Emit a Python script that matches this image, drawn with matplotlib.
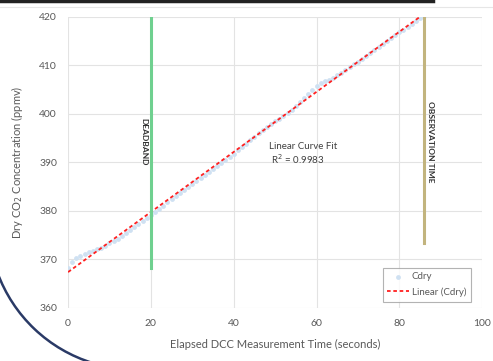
import numpy as np
import matplotlib.pyplot as plt
from matplotlib.patches import Arc
from matplotlib.lines import Line2D

# data (one reading per second)
elapsed = list(range(0, 87))
cdry = [368.2, 369.4, 370.2, 370.8, 371.2, 371.5, 371.8, 372.1, 372.4, 372.8,
        373.3, 373.8, 374.3, 374.9, 375.5, 376.1, 376.7, 377.3, 377.9, 378.5,
        379.1, 379.8, 380.5, 381.1, 381.8, 382.4, 383.0, 383.7, 384.3, 384.9,
        385.6, 386.2, 386.8, 387.4, 388.0, 388.6, 389.2, 389.9, 390.5, 391.1,
        391.8, 392.5, 393.2, 393.9, 394.6, 395.3, 396.0, 396.7, 397.4, 398.0,
        398.5, 399.0, 399.6, 400.2, 400.9, 401.6, 402.4, 403.2, 404.1, 405.0,
        405.8, 406.3, 406.7, 407.1, 407.5, 408.0, 408.5, 409.0, 409.6, 410.2,
        410.8, 411.4, 412.0, 412.6, 413.2, 413.8, 414.4, 415.0, 415.6, 416.2,
        416.8, 417.4, 418.0, 418.6, 419.2, 419.7, 420.2]

deadband_t = 20
deadband_y = [368.2, 420]
obs_t = 86
obs_y = [373.4, 420]

xticks = [0, 20, 40, 60, 80, 100]
yticks = [360, 370, 380, 390, 400, 410, 420]

plt.rcParams['font.family'] = ['Lato', 'DejaVu Sans']
grey = '#595959'

fig = plt.figure(figsize=(4.93, 3.61), dpi=100)
ax = fig.add_axes([0.138, 0.147, 0.840, 0.806])

ax.scatter(elapsed, cdry, marker='o', s=12, color='#cfe1f2', lw=0, zorder=2, label='Cdry')

# linear trendline
coef = np.polyfit(elapsed, cdry, 1)
tfit = np.array([0, obs_t])
ax.plot(tfit, np.polyval(coef, tfit), color='#ff2020', ls=(0, (2, 1.5)), lw=1.3,
        zorder=3, label='Linear (Cdry)')

ax.plot([deadband_t, deadband_t], deadband_y, color='#6fd08f', lw=2.2, zorder=4)
ax.plot([obs_t, obs_t], obs_y, color='#c2b47e', lw=2.2, zorder=4)

ax.text(deadband_t - 1.8, 394.3, 'DEADBAND', rotation=270, fontsize=6, color='#303030',
        ha='center', va='center', fontweight='bold')
ax.text(obs_t + 1.6, 394.3, 'OBSERVATION TIME', rotation=270, fontsize=6, color='#303030',
        ha='center', va='center', fontweight='bold')
ax.text(48.5, 393.2, 'Linear Curve Fit', fontsize=7, color='#404040', ha='left', va='center')
ax.text(49, 390.6, 'R$^2$ = 0.9983', fontsize=7, color='#404040', ha='left', va='center')

ax.set_xlim(0, 100)
ax.set_ylim(360, 420)
ax.set_xticks(xticks)
ax.set_yticks(yticks)
ax.tick_params(length=0, colors=grey, labelsize=7.5, pad=8)
ax.grid(True, color='#e3e3e3', lw=0.8)
ax.set_axisbelow(True)
for s in ax.spines.values():
    s.set_visible(False)

ax.set_xlabel('Elapsed DCC Measurement Time (seconds)', fontsize=8, color=grey, labelpad=8)
ax.set_ylabel('Dry CO$_2$ Concentration (ppmv)', fontsize=8, color=grey, labelpad=10)

leg = ax.legend(loc='lower right', bbox_to_anchor=(0.985, 0.005), fontsize=7,
                frameon=True, fancybox=False, handlelength=2.2, borderpad=0.5,
                labelspacing=0.6, handletextpad=0.3)
leg.get_frame().set_edgecolor('#a0a0a0')
leg.get_frame().set_linewidth(0.8)
for t in leg.get_texts():
    t.set_color(grey)

# slide decorations around the chart
fig.add_artist(Line2D([0, 0.878], [0.997, 0.997], color='#222222', lw=2.5))
fig.add_artist(Line2D([0, 1], [0.980, 0.980], color='#e6e6e6', lw=0.8))
fig.add_artist(Arc((1.36, 1.39), 2.95, 2.95, theta1=200, theta2=253,
                   transform=fig.dpi_scale_trans, color='#2a3a66', lw=1.8, zorder=5))

fig.savefig('out.png', dpi=100)
